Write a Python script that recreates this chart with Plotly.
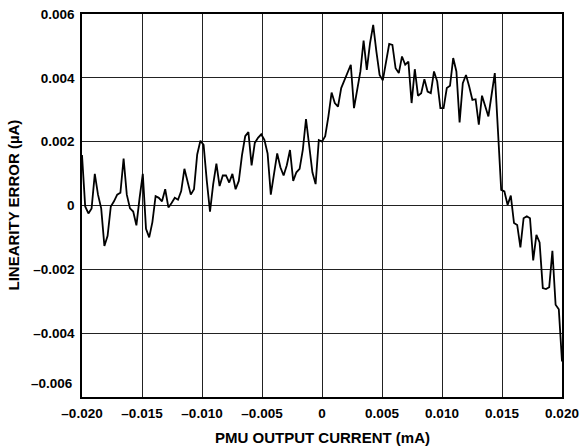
import numpy as np
import plotly.graph_objects as go

# PMU output current (mA), 151 equally spaced samples from -0.020 to 0.020
x_start, x_end, n_points = -0.020, 0.020, 151
current_ma = np.linspace(x_start, x_end, n_points)

# Linearity error (uA)
linearity_error_ua = [
    0.00158, -0.00003, -0.00025, -0.00009, 0.00099, 0.00034, -0.00009, -0.00127, -0.00095, -0.00003,
    0.00013, 0.00034, 0.00040, 0.00147, 0.00034, -0.00009, -0.00019, -0.00062, 0.00024, 0.00099,
    -0.00073, -0.00100, -0.00052, 0.00029, 0.00024, 0.00013, 0.00051, -0.00006, 0.00008, 0.00024,
    0.00018, 0.00045, 0.00115, 0.00072, 0.00034, 0.00051, 0.00160, 0.00203, 0.00190, 0.00077,
    -0.00019, 0.00067, 0.00131, 0.00061, 0.00094, 0.00094, 0.00072, 0.00099, 0.00051, 0.00077,
    0.00158, 0.00217, 0.00230, 0.00126, 0.00196, 0.00212, 0.00223, 0.00206, 0.00163, 0.00034,
    0.00094, 0.00163, 0.00120, 0.00094, 0.00126, 0.00174, 0.00077, 0.00104, 0.00115, 0.00174,
    0.00271, 0.00196, 0.00104, 0.00067, 0.00205, 0.00200, 0.00217, 0.00279, 0.00354, 0.00321,
    0.00310, 0.00368, 0.00394, 0.00420, 0.00441, 0.00305, 0.00363, 0.00420, 0.00517, 0.00425,
    0.00508, 0.00566, 0.00482, 0.00409, 0.00392, 0.00446, 0.00506, 0.00503, 0.00430, 0.00415,
    0.00467, 0.00441, 0.00451, 0.00321, 0.00427, 0.00344, 0.00352, 0.00396, 0.00357, 0.00352,
    0.00420, 0.00389, 0.00305, 0.00305, 0.00368, 0.00375, 0.00462, 0.00420, 0.00260, 0.00383,
    0.00409, 0.00373, 0.00331, 0.00333, 0.00253, 0.00344, 0.00315, 0.00279, 0.00347, 0.00415,
    0.00232, 0.00049, 0.00044, 0.00002, 0.00031, -0.00055, -0.00061, -0.00131, -0.00040, -0.00034,
    -0.00040, -0.00172, -0.00092, -0.00116, -0.00259, -0.00262, -0.00256, -0.00142, -0.00311, -0.00325,
    -0.00489,
]

x_ticks = [-0.020, -0.015, -0.010, -0.005, 0, 0.005, 0.010, 0.015, 0.020]
x_tick_labels = ["\u20130.020", "\u20130.015", "\u20130.010", "\u20130.005", "0",
                 "0.005", "0.010", "0.015", "0.020"]
y_ticks = [-0.006, -0.004, -0.002, 0, 0.002, 0.004, 0.006]
y_tick_labels = ["\u20130.006", "\u20130.004", "\u20130.002", "0", "0.002", "0.004", "0.006"]
x_title = "PMU OUTPUT CURRENT (mA)"
y_title = "LINEARITY ERROR (µA)"

FONT = "Liberation Sans, Arial, sans-serif"
TICK_SIZE = 13.5
TITLE_SIZE = 15

fig = go.Figure()
fig.add_trace(go.Scatter(
    x=current_ma, y=linearity_error_ua, mode="lines",
    line=dict(color="black", width=1.8), hoverinfo="skip", showlegend=False,
))

# the bottom y label sits slightly above its gridline in the reference
shown_y_labels = [("" if v == -0.006 else t) for v, t in zip(y_ticks, y_tick_labels)]
fig.add_annotation(
    x=0, xref="paper", y=-0.006, yref="y", text="<b>" + y_tick_labels[0] + "</b>",
    showarrow=False, xanchor="right", yanchor="middle", xshift=-7, yshift=14,
    font=dict(family=FONT, size=TICK_SIZE, color="black"),
)
# axis titles
fig.add_annotation(
    x=0, xref="paper", y=0.5, yref="paper", text="<b>" + y_title + "</b>",
    showarrow=False, textangle=-90, xanchor="center", yanchor="middle", xshift=-69,
    font=dict(family=FONT, size=TITLE_SIZE, color="black"),
)
fig.add_annotation(
    x=0.5, xref="paper", y=0, yref="paper", text="<b>" + x_title + "</b>",
    showarrow=False, xanchor="center", yanchor="middle", yshift=-40,
    font=dict(family=FONT, size=TITLE_SIZE, color="black"),
)

fig.update_layout(
    width=582, height=448,
    margin=dict(l=82, r=20, t=14, b=51),
    paper_bgcolor="white", plot_bgcolor="white",
    font=dict(family=FONT, size=TICK_SIZE, color="black"),
    xaxis=dict(
        range=[x_start, x_end], tickvals=x_ticks,
        ticktext=["<b>%s</b>" % t for t in x_tick_labels],
        showgrid=True, gridcolor="#222", gridwidth=1, zeroline=False,
        showline=True, linecolor="black", linewidth=1.5, mirror=True,
        ticks="", ticklabelstandoff=3, automargin=False,
    ),
    yaxis=dict(
        range=[-0.006, 0.006], tickvals=y_ticks,
        ticktext=[("<b>%s</b>" % t if t else "") for t in shown_y_labels],
        showgrid=True, gridcolor="#222", gridwidth=1, zeroline=False,
        showline=True, linecolor="black", linewidth=1.5, mirror=True,
        ticks="", ticklabelstandoff=3, automargin=False,
    ),
)

fig.write_html(
    "out.html",
    config={"displayModeBar": False},
    post_script="document.body.style.margin='0';document.body.style.overflow='hidden';",
)
